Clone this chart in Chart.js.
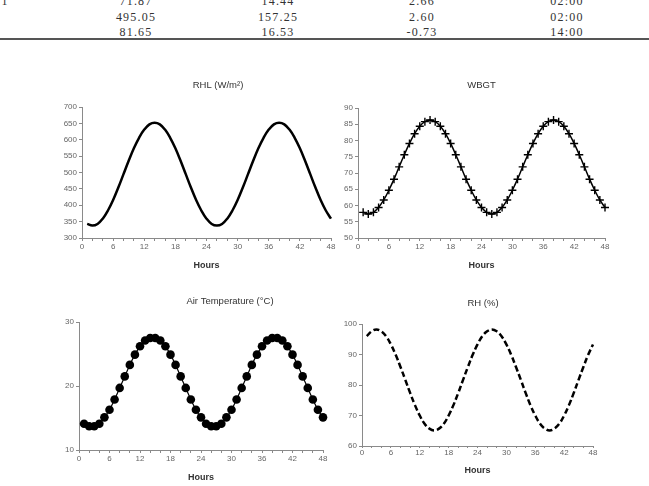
<!DOCTYPE html>
<html>
<head>
<meta charset="utf-8">
<script src="https://cdn.jsdelivr.net/npm/chart.js@4.4.1/dist/chart.umd.min.js"></script>
<style>
  html, body { margin: 0; padding: 0; background: #fff; }
  body { width: 649px; height: 486px; position: relative; overflow: hidden; }
  canvas { position: absolute; }
  .cell { position: absolute; width: 100px; text-align: center; font: 12px "Liberation Serif", serif;
          letter-spacing: 1.2px; line-height: 14px; color: #333; }
  .rule { position: absolute; left: 0; top: 38px; width: 649px; height: 1.5px; background: #555; }
</style>
</head>
<body>
<div id="table"></div>
<div class="rule"></div>
<canvas id="rhl" width="285" height="205" style="left:58px;top:70px"></canvas>
<canvas id="wbgt" width="283" height="205" style="left:334px;top:70px"></canvas>
<canvas id="temp" width="280" height="201" style="left:55px;top:285px"></canvas>
<canvas id="rh" width="267" height="195" style="left:338px;top:285px"></canvas>
<script>
// table rows above the figure
const tableRows = [
  ["71.87", "14.44", "2.66", "02:00"],
  ["495.05", "157.25", "2.60", "02:00"],
  ["81.65", "16.53", "-0.73", "14:00"]
];
const tableCols = [136, 278, 422, 567];
const tableTops = [-6, 9.5, 25];

// hourly series
const hours = [1,2,3,4,5,6,7,8,9,10,11,12,13,14,15,16,17,18,19,20,21,22,23,24,
               25,26,27,28,29,30,31,32,33,34,35,36,37,38,39,40,41,42,43,44,45,46,47,48];
const rhl = [343,338,343,359,384,416,454,495,536,574,606,631,647,652,647,631,606,574,536,495,454,416,384,359,
             343,338,343,359,384,416,454,495,536,574,606,631,647,652,647,631,606,574,536,495,454,416,384,359];
const wbgt = [57.9,57.4,57.9,59.4,61.7,64.7,68.1,71.9,75.6,79.1,82.1,84.4,85.8,86.3,85.8,84.4,82.1,79.1,75.6,71.9,68.1,64.7,61.7,59.4,
              57.9,57.4,57.9,59.4,61.7,64.7,68.1,71.9,75.6,79.1,82.1,84.4,85.8,86.3,85.8,84.4,82.1,79.1,75.6,71.9,68.1,64.7,61.7,59.4];
const airTemp = [14.1,13.7,13.7,14.1,15.1,16.3,17.9,19.7,21.5,23.3,24.9,26.2,27.1,27.5,27.5,27.1,26.2,24.9,23.3,21.5,19.7,17.9,16.3,15.1,
                 14.1,13.7,13.7,14.1,15.1,16.3,17.9,19.7,21.5,23.3,24.9,26.2,27.1,27.5,27.5,27.1,26.2,24.9,23.3,21.5,19.7,17.9,16.3,15.1];
const rh = [96.0,97.6,98.2,97.6,96.0,93.3,89.9,85.9,81.7,77.4,73.4,70.0,67.3,65.7,65.1,65.7,67.3,70.0,73.4,77.4,81.7,85.9,89.9,93.3,
            96.0,97.6,98.2,97.6,96.0,93.3,89.9,85.9,81.7,77.4,73.4,70.0,67.3,65.7,65.1,65.7,67.3,70.0,73.4,77.4,81.7,85.9,89.9,93.3];

// build the table text
const tbl = document.getElementById("table");
tableRows.forEach((row, r) => {
  row.forEach((txt, c) => {
    const d = document.createElement("div");
    d.className = "cell";
    d.style.left = (tableCols[c] - 50) + "px";
    d.style.top = tableTops[r] + "px";
    d.textContent = txt;
    tbl.appendChild(d);
  });
});
const one = document.createElement("div");
one.className = "cell";
one.style.width = "10px";
one.style.left = "0px";
one.style.top = tableTops[0] + "px";
one.textContent = "1";
tbl.appendChild(one);

const AXIS = "#8a8a8a";
const TICK_TXT = "#666";

// panel title drawn relative to the plot area
const panelTitle = {
  id: "panelTitle",
  afterDraw: (chart) => {
    const o = chart.options.plugins.panelTitle;
    const a = chart.chartArea;
    const ctx = chart.ctx;
    ctx.save();
    ctx.font = "9.5px Arial, 'Liberation Sans', sans-serif";
    ctx.fillStyle = "#333";
    ctx.textAlign = "center";
    ctx.textBaseline = "middle";
    ctx.fillText(o.text, (a.left + a.right) / 2 + o.dx, a.top - o.dy);
    ctx.restore();
  }
};

function makeChart(id, opts) {
  return new Chart(document.getElementById(id), {
    type: "line",
    data: { datasets: [Object.assign({
      data: hours.map((h, i) => ({ x: h, y: opts.values[i] })),
      borderColor: "#000",
      backgroundColor: "#000",
      tension: 0.4,
      fill: false,
      clip: false
    }, opts.style)] },
    options: {
      responsive: false,
      animation: false,
      devicePixelRatio: 1,
      layout: { padding: { top: opts.padTop, right: 12, left: 0, bottom: 0 } },
      plugins: {
        legend: { display: false },
        tooltip: { enabled: false },
        title: { display: false },
        panelTitle: { text: opts.title, dx: opts.titleDx, dy: opts.titleDy }
      },
      scales: {
        x: {
          type: "linear",
          min: 0, max: 48,
          afterFit: (s) => { s.height = opts.xHeight; },
          border: { color: AXIS, width: 1 },
          grid: { drawOnChartArea: false, color: AXIS, tickLength: opts.tickLen || 3 },
          ticks: {
            stepSize: 2, autoSkip: false, maxRotation: 0,
            padding: opts.xPad,
            color: TICK_TXT,
            font: { size: 8, family: "Arial, 'Liberation Sans', sans-serif" },
            callback: (v) => (v % 6 === 0 ? v : "")
          },
          title: {
            display: true, text: "Hours", color: "#333",
            padding: { top: 4, bottom: opts.hoursPad },
            font: { size: 9, weight: "bold", family: "Arial, 'Liberation Sans', sans-serif" }
          }
        },
        y: {
          min: opts.yMin, max: opts.yMax,
          afterFit: (s) => { s.width = 24; },
          border: { color: AXIS, width: 1 },
          grid: { drawOnChartArea: false, color: AXIS, tickLength: 3 },
          ticks: {
            stepSize: opts.yStep, padding: 2,
            color: TICK_TXT,
            font: { size: 8, family: "Arial, 'Liberation Sans', sans-serif" }
          }
        }
      }
    },
    plugins: [panelTitle]
  });
}

makeChart("rhl", {
  values: rhl, title: "RHL (W/m²)", titleDx: 11.5, titleDy: 22,
  padTop: 37, xHeight: 37, xPad: 1, hoursPad: 4,
  yMin: 300, yMax: 700, yStep: 50,
  style: { borderWidth: 2.5, pointRadius: 0 }
});

makeChart("wbgt", {
  values: wbgt, title: "WBGT", titleDx: 0, titleDy: 23,
  padTop: 38, xHeight: 37, xPad: 1, hoursPad: 4,
  yMin: 50, yMax: 90, yStep: 5,
  style: { borderWidth: 1.5, pointStyle: "cross", pointRadius: 4, pointBorderWidth: 1.4 }
});

makeChart("temp", {
  values: airTemp, title: "Air Temperature (°C)", titleDx: 29, titleDy: 21,
  padTop: 37, xHeight: 36, xPad: 1, hoursPad: 3,
  yMin: 10, yMax: 30, yStep: 10,
  style: { borderWidth: 1.2, pointStyle: "circle", pointRadius: 4.3, pointBorderWidth: 0 }
});

makeChart("rh", {
  values: rh, title: "RH (%)", titleDx: 5.5, titleDy: 21,
  padTop: 39, xHeight: 34, xPad: 0, hoursPad: 4, tickLen: 2,
  yMin: 60, yMax: 100, yStep: 10,
  style: { borderWidth: 2.5, borderDash: [6, 3], pointRadius: 0 }
});
</script>
</body>
</html>
